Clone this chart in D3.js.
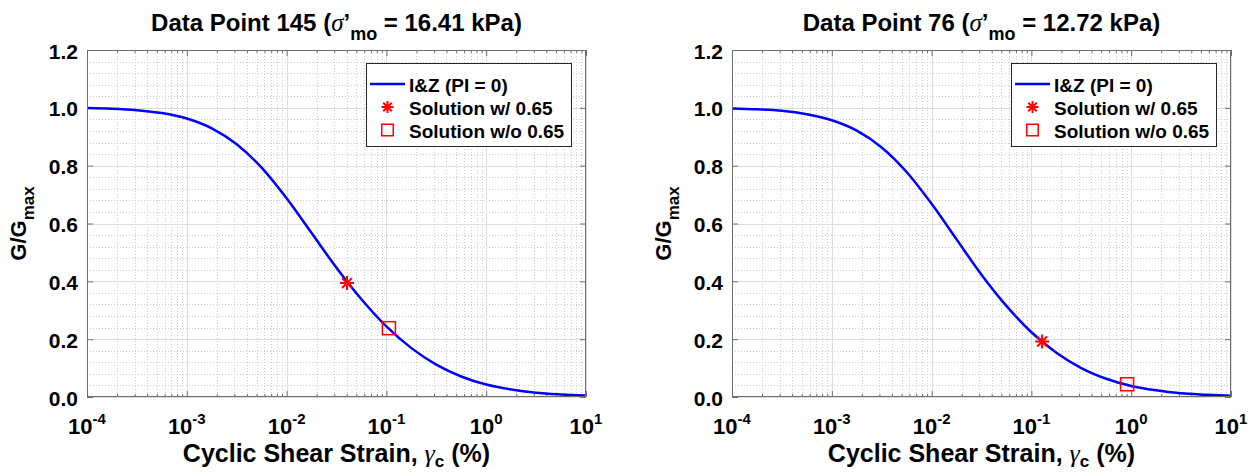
<!DOCTYPE html>
<html><head><meta charset="utf-8">
<script src="https://cdn.jsdelivr.net/npm/d3@7"></script>
<style>
body{margin:0;background:#fff}
svg{display:block}
text{font-family:"Liberation Sans",Arial,Helvetica,sans-serif;font-weight:bold;fill:#000}
.serif{font-family:"Liberation Serif","Times New Roman",serif;font-style:italic;font-weight:normal}
</style>
</head><body>
<svg id="c" width="1256" height="473"></svg>
<script>
// ---- data ----
const strain = [0.0001, 0.000178, 0.000316, 0.000562, 0.001, 0.00178, 0.00316, 0.00562,
  0.01, 0.0178, 0.0316, 0.0562, 0.1, 0.178, 0.316, 0.562, 1, 1.78, 3.16, 5.62, 10];
const ratioDP145 = [0.999, 0.997, 0.992, 0.982, 0.963, 0.929, 0.874, 0.793, 0.687, 0.567,
  0.447, 0.338, 0.244, 0.169, 0.112, 0.071, 0.043, 0.026, 0.015, 0.009, 0.005];
const ratioDP76 = [0.998, 0.995, 0.990, 0.978, 0.957, 0.921, 0.863, 0.778, 0.668, 0.545,
  0.423, 0.315, 0.224, 0.153, 0.100, 0.063, 0.038, 0.023, 0.013, 0.008, 0.004];
const panelNames = ["Data Point 145", "Data Point 76"];
const stressLabels = ["16.41 kPa", "12.72 kPa"];
const solWithStrain = [0.0403, 0.128];
const solWithRatio = [0.394, 0.192];
const solWithoutStrain = [0.106, 0.91];
const solWithoutRatio = [0.238, 0.044];
const xTickExps = [-4, -3, -2, -1, 0, 1];
const yTicks = [0, 0.2, 0.4, 0.6, 0.8, 1.0, 1.2];
const legendLabels = ["I&Z (PI = 0)", "Solution w/ 0.65", "Solution w/o 0.65"];
const xLabel = "Cyclic Shear Strain, ";
const yLabel = "G/G";

const curves = [ratioDP145, ratioDP76];
const svg = d3.select("#c");
const PW = 499, PH = 347;
const origins = [[87, 50], [732, 50]];

function star(g, cx, cy, r, w) {
  const d = r * Math.SQRT1_2;
  const p = `M${cx - r},${cy}L${cx + r},${cy}M${cx},${cy - r}L${cx},${cy + r}` +
    `M${cx - d},${cy - d}L${cx + d},${cy + d}M${cx - d},${cy + d}L${cx + d},${cy - d}`;
  g.append("path").attr("d", p).attr("stroke", "#ff0000").attr("stroke-width", w).attr("fill", "none");
}
function square(g, cx, cy, s, w) {
  g.append("rect").attr("x", cx - s / 2).attr("y", cy - s / 2).attr("width", s).attr("height", s)
    .attr("fill", "none").attr("stroke", "#ff0000").attr("stroke-width", w);
}

origins.forEach(([ox, oy], i) => {
  const g = svg.append("g").attr("transform", `translate(${ox},${oy})`);
  const x = d3.scaleLog().domain([1e-4, 10]).range([0, PW]);
  const y = d3.scaleLinear().domain([0, 1.2]).range([PH, 0]);
  const majorX = xTickExps.map(e => Math.pow(10, e));
  const minorX = [];
  xTickExps.slice(0, -1).forEach(e => { for (let k = 2; k <= 9; k++) minorX.push(k * Math.pow(10, e)); });
  const minorY = d3.range(0, 31).map(k => k * 0.04).filter(v => Math.abs(v / 0.2 - Math.round(v / 0.2)) > 1e-6);

  g.append("rect").attr("width", PW).attr("height", PH).attr("fill", "#fff");
  const mg = g.append("g").attr("stroke", "#cfcfcf").attr("stroke-width", 1).attr("stroke-dasharray", "1,2");
  minorX.forEach(v => { const px = Math.round(x(v)) + 0.5; mg.append("line").attr("x1", px).attr("x2", px).attr("y1", 0).attr("y2", PH); });
  minorY.forEach(v => { const py = Math.round(y(v)) + 0.5; mg.append("line").attr("y1", py).attr("y2", py).attr("x1", 0).attr("x2", PW); });
  const Mg = g.append("g").attr("stroke", "#dedede").attr("stroke-width", 1);
  majorX.forEach(v => { const px = Math.round(x(v)) + 0.5; Mg.append("line").attr("x1", px).attr("x2", px).attr("y1", 0).attr("y2", PH); });
  yTicks.forEach(v => { const py = Math.round(y(v)) + 0.5; Mg.append("line").attr("y1", py).attr("y2", py).attr("x1", 0).attr("x2", PW); });

  const axCol = "#6e6e6e";
  const mk = (axis, tr) => {
    const a = g.append("g").attr("transform", tr).call(axis);
    a.select(".domain").remove();
    a.selectAll("line").attr("stroke", axCol);
    a.selectAll("text").remove();
  };
  mk(d3.axisBottom(x).tickValues(majorX).tickSize(-6).tickFormat(""), `translate(0,${PH})`);
  mk(d3.axisBottom(x).tickValues(minorX).tickSize(-3).tickFormat(""), `translate(0,${PH})`);
  mk(d3.axisTop(x).tickValues(majorX).tickSize(-6).tickFormat(""), `translate(0,0)`);
  mk(d3.axisTop(x).tickValues(minorX).tickSize(-3).tickFormat(""), `translate(0,0)`);
  mk(d3.axisLeft(y).tickValues(yTicks).tickSize(-6).tickFormat(""), `translate(0,0)`);
  mk(d3.axisRight(y).tickValues(yTicks).tickSize(-6).tickFormat(""), `translate(${PW},0)`);

  const line = d3.line().x(d => x(d[0])).y(d => y(d[1])).curve(d3.curveMonotoneX);
  g.append("path").datum(strain.map((s, k) => [s, curves[i][k]]))
    .attr("d", line).attr("fill", "none").attr("stroke", "#0000ff").attr("stroke-width", 2.5);

  star(g, x(solWithStrain[i]), y(solWithRatio[i]), 7, 2);
  square(g, x(solWithoutStrain[i]), y(solWithoutRatio[i]), 13, 1.5);

  g.append("rect").attr("x", 0.5).attr("y", 0.5).attr("width", PW - 1).attr("height", PH - 1)
    .attr("fill", "none").attr("stroke", axCol).attr("stroke-width", 1);

  yTicks.forEach(v => {
    g.append("text").attr("x", -9).attr("y", y(v) + 1).attr("text-anchor", "end")
      .attr("dominant-baseline", "central").attr("font-size", 21).text(v.toFixed(1));
  });
  xTickExps.forEach(e => {
    const t = g.append("text").attr("x", x(Math.pow(10, e))).attr("y", PH + 37)
      .attr("text-anchor", "middle").attr("font-size", 22);
    t.append("tspan").text("10");
    t.append("tspan").attr("dy", -10).attr("font-size", 15).text(String(e));
  });

  const tt = g.append("text").attr("x", PW / 2).attr("y", -19).attr("text-anchor", "middle").attr("font-size", 24);
  tt.append("tspan").text(panelNames[i] + " (");
  tt.append("tspan").attr("class", "serif").attr("font-size", 25).text("σ");
  tt.append("tspan").text("’");
  tt.append("tspan").attr("dy", 9).attr("font-size", 18).text("mo");
  tt.append("tspan").attr("dy", -9).text(" = " + stressLabels[i] + ")");

  const xl = g.append("text").attr("x", PW / 2).attr("y", PH + 65).attr("text-anchor", "middle").attr("font-size", 25);
  xl.append("tspan").text(xLabel);
  xl.append("tspan").attr("class", "serif").attr("font-style", "normal").attr("font-size", 26).text("γ");
  xl.append("tspan").attr("dy", 5).attr("font-size", 17).text("c");
  xl.append("tspan").attr("dy", -5).text(" (%)");

  const yl = g.append("text").attr("transform", `translate(-61,${PH / 2}) rotate(-90)`)
    .attr("text-anchor", "middle").attr("font-size", 22);
  yl.append("tspan").text(yLabel);
  yl.append("tspan").attr("dy", 8).attr("font-size", 17).text("max");

  const lg = g.append("g").attr("transform", `translate(279,13)`);
  lg.append("rect").attr("x", 0.5).attr("y", 0.5).attr("width", 205).attr("height", 83)
    .attr("fill", "#fff").attr("stroke", "#262626").attr("stroke-width", 1);
  const rows = [21, 44, 67];
  lg.append("line").attr("x1", 4).attr("x2", 39).attr("y1", rows[0]).attr("y2", rows[0])
    .attr("stroke", "#0000ff").attr("stroke-width", 2.5);
  star(lg, 21.5, rows[1], 6, 2);
  square(lg, 21.5, rows[2], 11.5, 1.5);
  legendLabels.forEach((l, k) => {
    lg.append("text").attr("x", 43).attr("y", rows[k] + 1).attr("dominant-baseline", "central")
      .attr("font-size", 19).text(l);
  });
});
</script>
</body></html>
